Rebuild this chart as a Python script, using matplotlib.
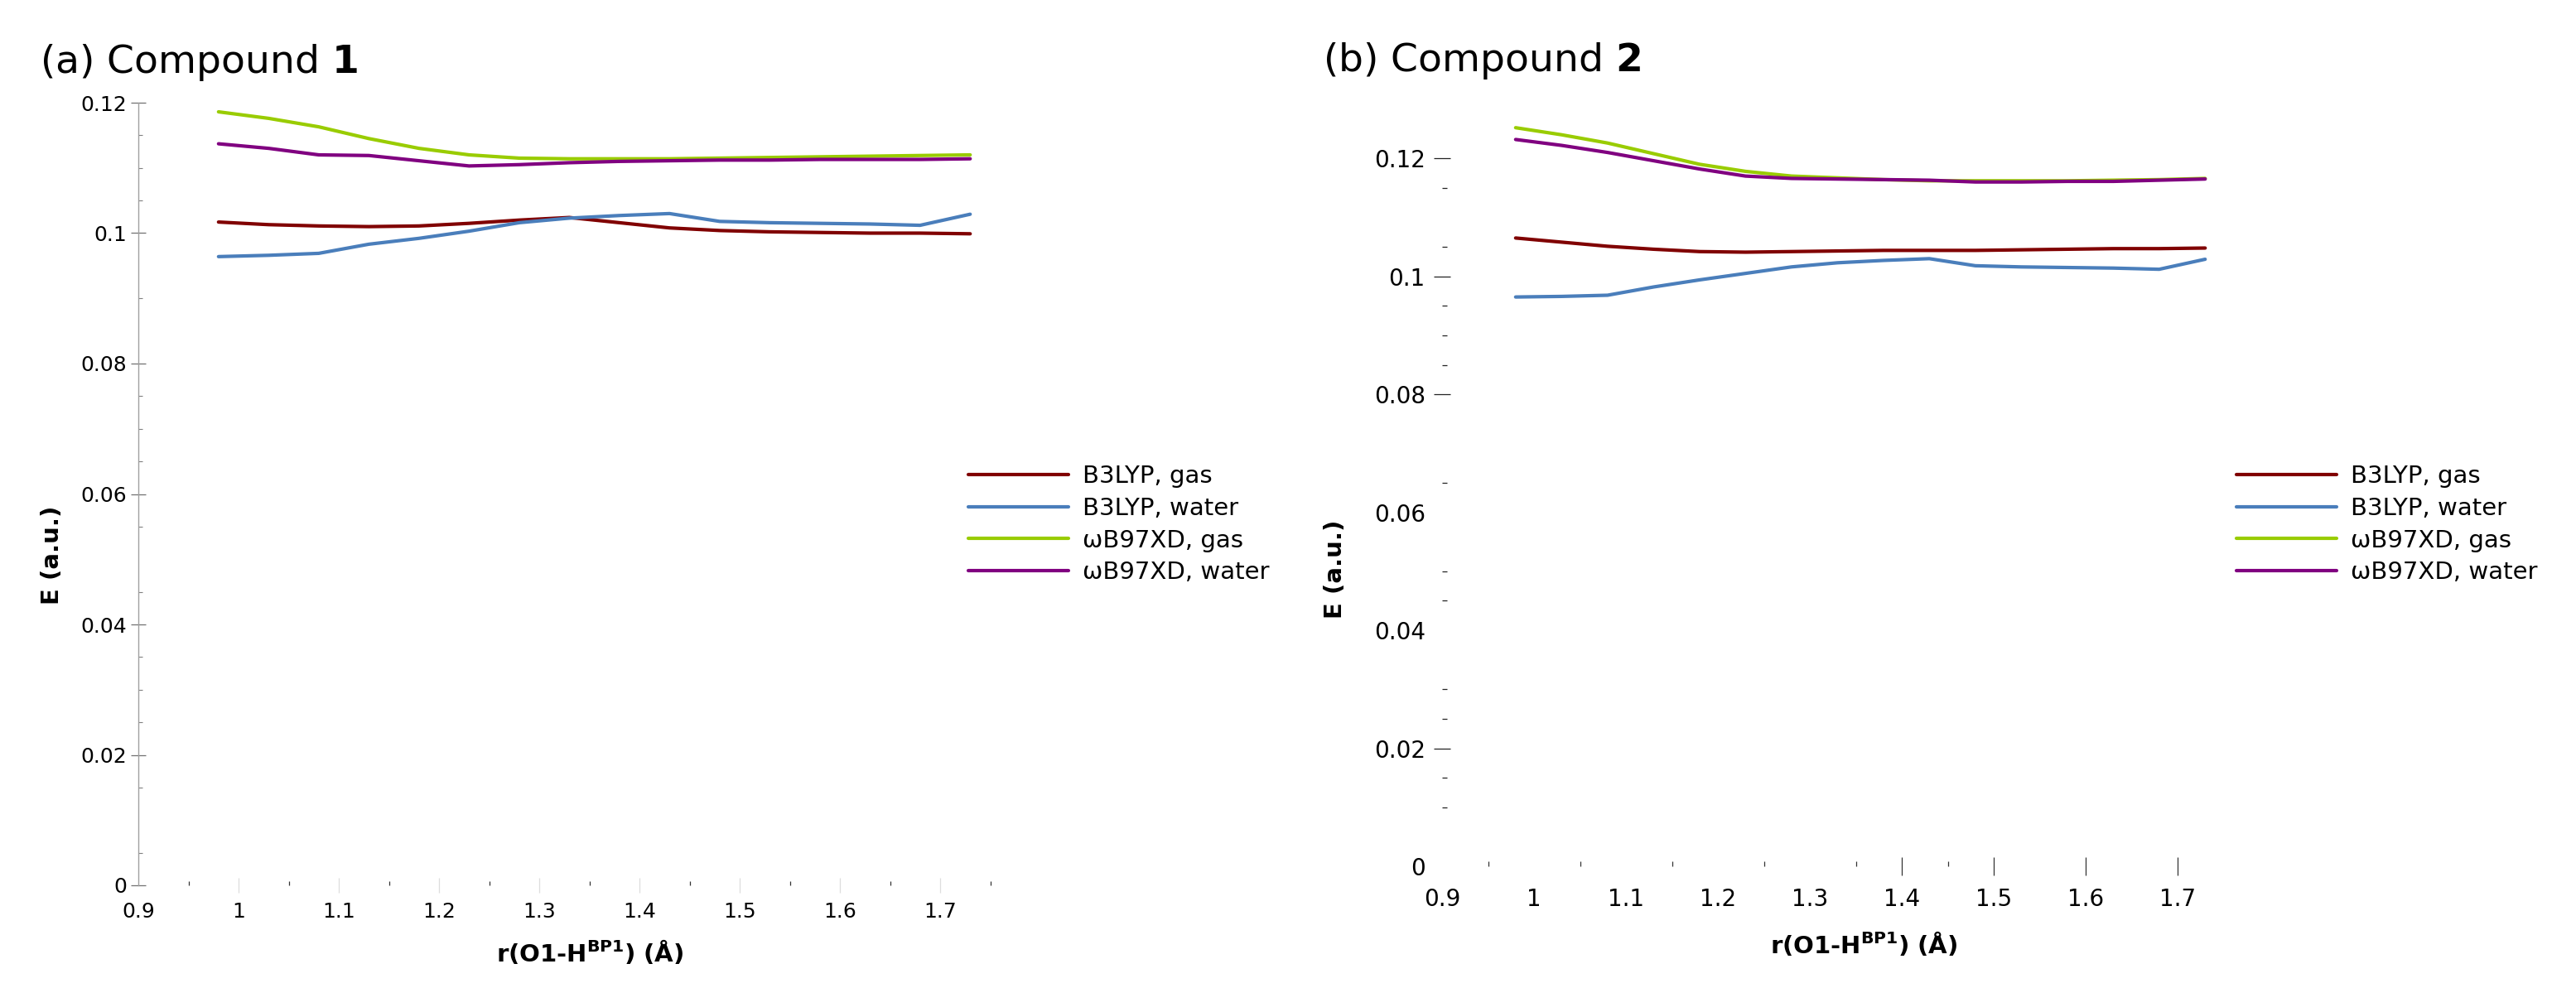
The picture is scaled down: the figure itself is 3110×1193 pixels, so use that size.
import matplotlib
matplotlib.use("Agg")
import matplotlib.pyplot as plt

plt.rcParams['font.family'] = ['DejaVu Sans']
plt.rcParams['mathtext.fontset'] = 'dejavusans'

# ---------------- data ----------------
r_oh = [0.98, 1.03, 1.08, 1.13, 1.18, 1.23, 1.28, 1.33, 1.38, 1.43, 1.48, 1.53, 1.58, 1.63, 1.68, 1.73]

series_labels = ["B3LYP, gas", "B3LYP, water", "ωB97XD, gas", "ωB97XD, water"]
series_colors = ["#800000", "#4a7ebb", "#99cc00", "#800080"]

# Compound 1
c1_b3lyp_gas = [0.1017, 0.1013, 0.1011, 0.1010, 0.1011, 0.1015, 0.1020, 0.1024, 0.1016, 0.1008, 0.1004, 0.1002, 0.1001, 0.1000, 0.1000, 0.0999]
c1_b3lyp_water = [0.0964, 0.0966, 0.0969, 0.0983, 0.0992, 0.1003, 0.1016, 0.1023, 0.1027, 0.1030, 0.1018, 0.1016, 0.1015, 0.1014, 0.1012, 0.1029]
c1_wb97xd_gas = [0.1186, 0.1176, 0.1163, 0.1145, 0.1130, 0.1120, 0.1115, 0.1114, 0.1114, 0.1114, 0.1115, 0.1116, 0.1117, 0.1118, 0.1119, 0.1120]
c1_wb97xd_water = [0.1137, 0.1130, 0.1120, 0.1119, 0.1111, 0.1103, 0.1105, 0.1108, 0.1110, 0.1111, 0.1112, 0.1112, 0.1113, 0.1113, 0.1113, 0.1114]

# Compound 2
c2_b3lyp_gas = [0.1065, 0.1058, 0.1051, 0.1046, 0.1042, 0.1041, 0.1042, 0.1043, 0.1044, 0.1044, 0.1044, 0.1045, 0.1046, 0.1047, 0.1047, 0.1048]
c2_b3lyp_water = [0.0965, 0.0966, 0.0968, 0.0982, 0.0994, 0.1005, 0.1016, 0.1023, 0.1027, 0.1030, 0.1018, 0.1016, 0.1015, 0.1014, 0.1012, 0.1029]
c2_wb97xd_gas = [0.1252, 0.1240, 0.1226, 0.1208, 0.1190, 0.1178, 0.1170, 0.1167, 0.1164, 0.1162, 0.1162, 0.1162, 0.1162, 0.1163, 0.1164, 0.1166]
c2_wb97xd_water = [0.1232, 0.1222, 0.1210, 0.1196, 0.1182, 0.1170, 0.1166, 0.1165, 0.1164, 0.1163, 0.1160, 0.1160, 0.1161, 0.1161, 0.1163, 0.1165]

x_ticks = [0.9, 1.0, 1.1, 1.2, 1.3, 1.4, 1.5, 1.6, 1.7]
x_ticklabels = ["0.9", "1", "1.1", "1.2", "1.3", "1.4", "1.5", "1.6", "1.7"]
y_ticks_a = [0, 0.02, 0.04, 0.06, 0.08, 0.1, 0.12]
y_ticks_b = [0, 0.02, 0.04, 0.06, 0.08, 0.1, 0.12]
y_ticklabels = ["0", "0.02", "0.04", "0.06", "0.08", "0.1", "0.12"]
y_minor_a = [0.005, 0.015, 0.025, 0.03, 0.035, 0.045, 0.055, 0.065, 0.07, 0.075, 0.09, 0.105, 0.11, 0.115]
x_minor_a = [0.95, 1.05, 1.15, 1.25, 1.35, 1.45, 1.55, 1.65, 1.75]
y_minor_b = [0.01, 0.015, 0.025, 0.03, 0.045, 0.05, 0.065, 0.085, 0.09, 0.095, 0.105, 0.115]
x_minor_b = [0.95, 1.05, 1.15, 1.25, 1.35, 1.45]

xlabel = r"$\mathbf{r(O1‐H^{BP1})\ (Å)}$"
ylabel = "E (a.u.)"

# ---------------- figure ----------------
W, H = 3110, 1193
fig = plt.figure(figsize=(W / 100, H / 100), dpi=100)

ax1 = fig.add_axes([167 / W, (H - 1069) / H, 1028.5 / W, 945 / H])
ax2 = fig.add_axes([1741 / W, (H - 1046) / H, 943.5 / W, 926 / H])

data_a = [c1_b3lyp_gas, c1_b3lyp_water, c1_wb97xd_gas, c1_wb97xd_water]
data_b = [c2_b3lyp_gas, c2_b3lyp_water, c2_wb97xd_gas, c2_wb97xd_water]

for ax, data in ((ax1, data_a), (ax2, data_b)):
    for vals, lab, col in zip(data, series_labels, series_colors):
        ax.plot(r_oh, vals, color=col, lw=3.0, label=lab, solid_capstyle='round')
    ax.set_xlim(0.9, 1.75)
    ax.set_xticks(x_ticks)
    ax.set_xticklabels(x_ticklabels)
    for s in ax.spines.values():
        s.set_visible(False)

# Panel (a)
ax1.set_ylim(0, 0.12)
ax1.set_yticks(y_ticks_a)
ax1.set_yticklabels(y_ticklabels)
ax1.set_yticks(y_minor_a, minor=True)
ax1.set_xticks(x_minor_a, minor=True)
ax1.spines['left'].set_visible(True)
ax1.spines['left'].set_color('#a0a0a0')
ax1.spines['left'].set_linewidth(1.0)
ax1.tick_params(axis='y', which='major', direction='inout', length=13, width=0.9,
                color='#707070', pad=3.5, labelsize=18)
ax1.tick_params(axis='y', which='minor', direction='in', length=3.6, width=0.8, color='#808080')
ax1.tick_params(axis='x', which='major', direction='inout', length=13, width=0.9,
                color='#dddddd', pad=8, labelsize=18)
ax1.tick_params(axis='x', which='minor', direction='in', length=3.6, width=0.9, color='#333333')
ax1.xaxis.get_major_ticks()[0].tick1line.set_visible(False)

# Panel (b)
ax2.set_ylim(0, 0.13)
ax2.set_yticks(y_ticks_b)
ax2.set_yticklabels(y_ticklabels)
ax2.set_yticks(y_minor_b, minor=True)
ax2.set_xticks(x_minor_b, minor=True)
ax2.tick_params(axis='y', which='major', direction='inout', length=15, width=0.9,
                color='#222222', pad=7, labelsize=20)
ax2.tick_params(axis='y', which='minor', direction='in', length=4.3, width=0.9, color='#222222')
ax2.tick_params(axis='x', which='major', direction='inout', length=16, width=0.9,
                color='#333333', pad=11, labelsize=20)
ax2.tick_params(axis='x', which='minor', direction='in', length=4.3, width=0.9, color='#333333')
for t, v in zip(ax2.yaxis.get_major_ticks(), y_ticks_b):
    if v in (0, 0.04, 0.06):
        t.tick1line.set_visible(False)
for t, v in zip(ax2.xaxis.get_major_ticks(), x_ticks):
    if v < 1.35:
        t.tick1line.set_visible(False)

# Titles
fig.text(48 / W, (H - 88) / H, r"(a) Compound $\mathbf{1}$", fontsize=34, ha='left', va='baseline')
fig.text(1597 / W, (H - 86) / H, r"(b) Compound $\mathbf{2}$", fontsize=34, ha='left', va='baseline')

# Axis labels
fig.text(63 / W, (H - 670) / H, ylabel, rotation=90, fontsize=21, fontweight='bold', ha='center', va='center')
fig.text(1612 / W, (H - 687) / H, ylabel, rotation=90, fontsize=21, fontweight='bold', ha='center', va='center')
fig.text(712 / W, (H - 1150) / H, xlabel, fontsize=21, ha='center', va='center')
fig.text(2250 / W, (H - 1140) / H, xlabel, fontsize=21, ha='center', va='center')

# Legends
for ax, x0 in ((ax1, 1169), (ax2, 2700)):
    ax.legend(loc='upper left', bbox_to_anchor=(x0 / W, (H - 561) / H),
              bbox_transform=fig.transFigure, frameon=False, fontsize=21,
              handlelength=4.15, handletextpad=0.58, labelspacing=0.37,
              borderpad=0, borderaxespad=0)

fig.savefig("out.png", dpi=100, facecolor='white')
